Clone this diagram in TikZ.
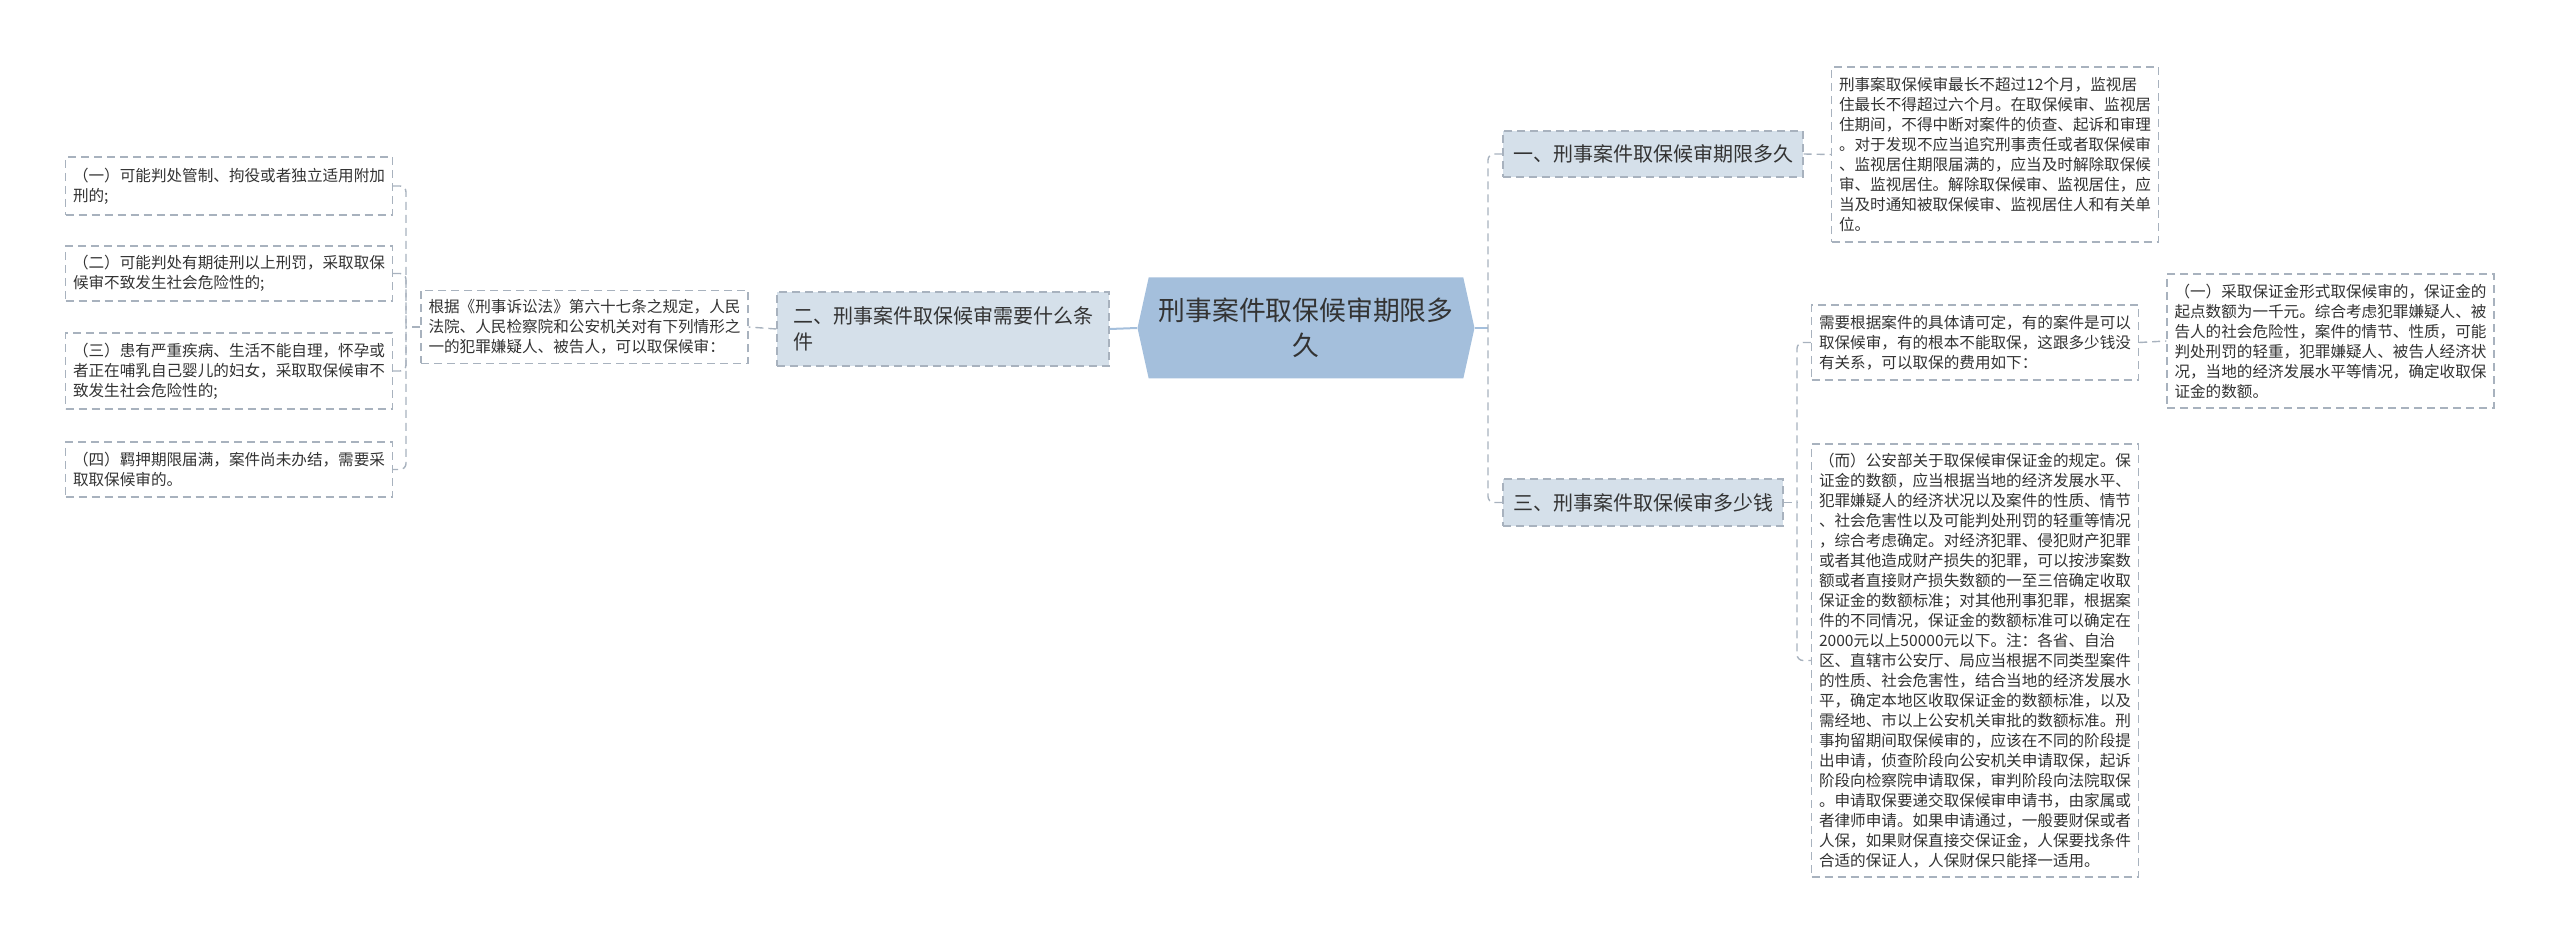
\documentclass[tikz,border=0pt]{standalone}
\usepackage{fontspec}
\setmainfont{Noto Sans CJK SC}
\usetikzlibrary{shapes,positioning,calc}
\definecolor{rootblue}{RGB}{164,191,220}
\definecolor{topicblue}{RGB}{213,224,234}
\definecolor{dashgray}{RGB}{168,178,190}
\definecolor{textgray}{RGB}{51,51,51}

\begin{document}
\begin{tikzpicture}[x=0.5pt,y=-0.5pt,
    rootbox/.style={signal, signal to=west and east, signal pointer angle=155, fill=rootblue, draw=none, text=textgray, align=center, font=\fontsize{13.4pt}{17.5pt}\selectfont, minimum width=168.5pt, minimum height=50.5pt, inner sep=0pt},
    topicbox/.style={draw=dashgray, dash pattern=on 4pt off 2.5pt, line width=0.7pt, fill=topicblue, text=textgray, align=left, font=\fontsize{10pt}{13pt}\selectfont, inner sep=0pt},
    leafbox/.style={draw=dashgray, dash pattern=on 4pt off 2.5pt, line width=0.7pt, fill=white, text=textgray, align=left, font=\fontsize{7.8pt}{10pt}\selectfont, minimum width=163.5pt, inner sep=0pt},
    link/.style={draw=rootblue, line width=1pt},
    dlink/.style={draw=dashgray, line width=0.7pt, dash pattern=on 4pt off 2.5pt, rounded corners=3pt}]

    \useasboundingbox (0,0) rectangle (2560,946);

    % root
    \node [rootbox] (root) at (1306,328) {刑事案件取保候审期限多\\久};

    % topics
    \node [topicbox, minimum width=150pt, minimum height=23pt] (topone) at (1653,154) {一、刑事案件取保候审期限多久};
    \node [topicbox, minimum width=166pt, minimum height=37pt] (toptwo) at (943,329) {二、刑事案件取保候审需要什么条\\件};
    \node [topicbox, minimum width=140pt, minimum height=23.5pt] (topthree) at (1643,502.5) {三、刑事案件取保候审多少钱};

    % right side
    \node [leafbox, minimum height=87.5pt] (term) at (1995,154.5) {刑事案取保候审最长不超过12个月，监视居\\住最长不得超过六个月。在取保候审、监视居\\住期间，不得中断对案件的侦查、起诉和审理\\。对于发现不应当追究刑事责任或者取保候审\\、监视居住期限届满的，应当及时解除取保候\\审、监视居住。解除取保候审、监视居住，应\\当及时通知被取保候审、监视居住人和有关单\\位。};
    \node [leafbox, minimum height=37.5pt] (cost) at (1975,342.5) {需要根据案件的具体请可定，有的案件是可以\\取保候审，有的根本不能取保，这跟多少钱没\\有关系，可以取保的费用如下：};
    \node [leafbox, minimum height=67pt] (bail) at (2330.5,341) {（一）采取保证金形式取保候审的，保证金的\\起点数额为一千元。综合考虑犯罪嫌疑人、被\\告人的社会危险性，案件的情节、性质，可能\\判处刑罚的轻重，犯罪嫌疑人、被告人经济状\\况，当地的经济发展水平等情况，确定收取保\\证金的数额。};
    \node [leafbox, minimum height=216.5pt] (rule) at (1975,660.5) {（而）公安部关于取保候审保证金的规定。保\\证金的数额，应当根据当地的经济发展水平、\\犯罪嫌疑人的经济状况以及案件的性质、情节\\、社会危害性以及可能判处刑罚的轻重等情况\\，综合考虑确定。对经济犯罪、侵犯财产犯罪\\或者其他造成财产损失的犯罪，可以按涉案数\\额或者直接财产损失数额的一至三倍确定收取\\保证金的数额标准；对其他刑事犯罪，根据案\\件的不同情况，保证金的数额标准可以确定在\\2000元以上50000元以下。注：各省、自治\\区、直辖市公安厅、局应当根据不同类型案件\\的性质、社会危害性，结合当地的经济发展水\\平，确定本地区收取保证金的数额标准，以及\\需经地、市以上公安机关审批的数额标准。刑\\事拘留期间取保候审的，应该在不同的阶段提\\出申请，侦查阶段向公安机关申请取保，起诉\\阶段向检察院申请取保，审判阶段向法院取保\\。申请取保要递交取保候审申请书，由家属或\\者律师申请。如果申请通过，一般要财保或者\\人保，如果财保直接交保证金，人保要找条件\\合适的保证人，人保财保只能择一适用。};

    % left side
    \node [leafbox, minimum height=36.5pt] (basis) at (584.5,327) {根据《刑事诉讼法》第六十七条之规定，人民\\法院、人民检察院和公安机关对有下列情形之\\一的犯罪嫌疑人、被告人，可以取保候审：};
    \node [leafbox, minimum height=29pt] (caseone) at (229,186) {（一）可能判处管制、拘役或者独立适用附加\\刑的;};
    \node [leafbox, minimum height=27.5pt] (casetwo) at (229,273.5) {（二）可能判处有期徒刑以上刑罚，采取取保\\候审不致发生社会危险性的;};
    \node [leafbox, minimum height=38pt] (casethree) at (229,371) {（三）患有严重疾病、生活不能自理，怀孕或\\者正在哺乳自己婴儿的妇女，采取取保候审不\\致发生社会危险性的;};
    \node [leafbox, minimum height=27.5pt] (casefour) at (229,469.5) {（四）羁押期限届满，案件尚未办结，需要采\\取取保候审的。};

    % junctions
    \coordinate (jroot) at (1488,328);
    \coordinate (jthree) at (1797,502.5);
    \coordinate (jleft) at (406,327);

    % connectors
    \draw [link] (root.west) -- (toptwo.east);
    \draw [link] (root.east) -- (jroot);
    \draw [dlink] (topone.west) -| (jroot) |- (topthree.west);
    \draw [dlink] (topone.east) -- (term.west);
    \draw [dlink] (topthree.east) -- (jthree);
    \draw [dlink] (cost.west) -| (jthree) |- (rule.west);
    \draw [dlink] (cost.east) -- (bail.west);
    \draw [dlink] (toptwo.west) -- (basis.east);
    \draw [dlink] (basis.west) -- (jleft);
    \draw [dlink] (caseone.east) -| (jleft) |- (casefour.east);
    \draw [dlink] (casetwo.east) -| (jleft);
    \draw [dlink] (casethree.east) -| (jleft);

\end{tikzpicture}
\end{document}
